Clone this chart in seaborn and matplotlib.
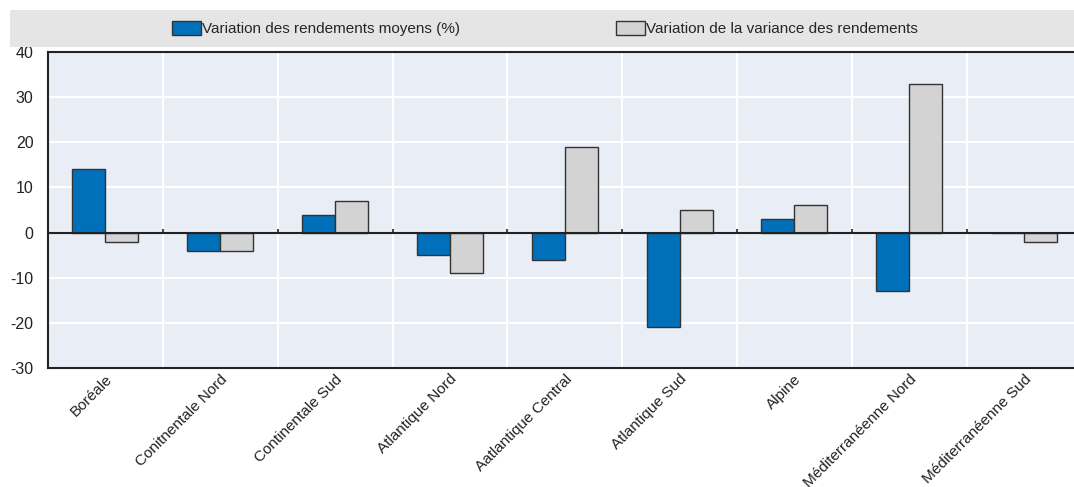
import numpy as np
import pandas as pd
import matplotlib
matplotlib.use("Agg")
import matplotlib.pyplot as plt
import seaborn as sns
from matplotlib.patches import Rectangle, Patch
from matplotlib import font_manager

categories = ["Boréale", "Conitnentale Nord", "Continentale Sud", "Atlantique Nord",
              "Aatlantique Central", "Atlantique Sud", "Alpine",
              "Méditerranéenne Nord", "Méditerranéenne Sud"]
mean_yield = [14, -4, 4, -5, -6, -21, 3, -13, 0]
var_yield = [-2, -4, 7, -9, 19, 5, 6, 33, -2]
series_names = ["Variation des rendements moyens (%)", "Variation de la variance des rendements"]
yticks = [-30, -20, -10, 0, 10, 20, 30, 40]

df = pd.DataFrame({
    "cat": categories * 2,
    "val": mean_yield + var_yield,
    "serie": [series_names[0]] * len(categories) + [series_names[1]] * len(categories),
})

sns.set_theme(style="white")
names = {f.name for f in font_manager.fontManager.ttflist}
fam = "Liberation Sans Narrow" if "Liberation Sans Narrow" in names else "Liberation Sans"
plt.rcParams["font.family"] = [fam, "DejaVu Sans"]

colors = ["#0070BA", "#D3D3D3"]
fig = plt.figure(figsize=(10.74, 4.87), dpi=100)
ax = fig.add_axes([48 / 1074, 1 - 368 / 487, (1081.5 - 48) / 1074, (368 - 52) / 487])
ax.set_facecolor("#E9EDF6")

sns.barplot(data=df, x="cat", y="val", hue="serie", palette=colors, width=0.575,
            saturation=1, edgecolor="#333333", linewidth=1.0, ax=ax, legend=False, zorder=3)

n = len(categories)
ax.set_xlim(-0.5, n - 0.5)
ax.set_ylim(-30, 40)
ax.set_yticks(yticks)
ax.set_yticklabels([str(t) for t in yticks], fontsize=11.5)
ax.set_xticks(range(n))
ax.set_xticklabels(categories, rotation=45, ha="right", rotation_mode="anchor", fontsize=11)
ax.set_xlabel("")
ax.set_ylabel("")

# grid
ax.set_xticks(np.arange(n - 1) + 0.5, minor=True)
ax.grid(True, which="minor", axis="x", color="white", linewidth=1.5, zorder=0)
ax.grid(True, which="major", axis="y", color="white", linewidth=1.5, zorder=0)
ax.grid(False, which="major", axis="x")
ax.set_axisbelow(True)
ax.axhline(0, color="#222222", linewidth=1.5, zorder=4)
ax.vlines(np.arange(n - 1) + 0.5, 0, 0.9, color="#222222", linewidth=1.2, zorder=4)

ax.tick_params(axis="y", direction="in", length=4, width=1, color="#222222", pad=10.5, labelcolor="#222222")
ax.tick_params(axis="x", which="both", length=0, pad=3, labelcolor="#222222")
for s in ["left", "bottom", "top"]:
    ax.spines[s].set_visible(True)
    ax.spines[s].set_color("#222222")
    ax.spines[s].set_linewidth(1.5)
ax.spines["right"].set_visible(False)

# legend band
fig.patches.append(Rectangle((10 / 1074, 1 - 47 / 487), 1 - 10 / 1074, 37 / 487,
                             transform=fig.transFigure, facecolor="#E5E5E5",
                             edgecolor="none", zorder=0))
handles = [Patch(facecolor=colors[0], edgecolor="#333333"),
           Patch(facecolor=colors[1], edgecolor="#333333")]
fig.legend(handles, series_names, loc="center", bbox_to_anchor=(545 / 1074, 1 - 28.5 / 487),
           ncol=2, frameon=False, fontsize=11, handlelength=1.9, handleheight=1.1,
           handletextpad=0.05, columnspacing=10.2)

fig.savefig("out.png", dpi=100)
